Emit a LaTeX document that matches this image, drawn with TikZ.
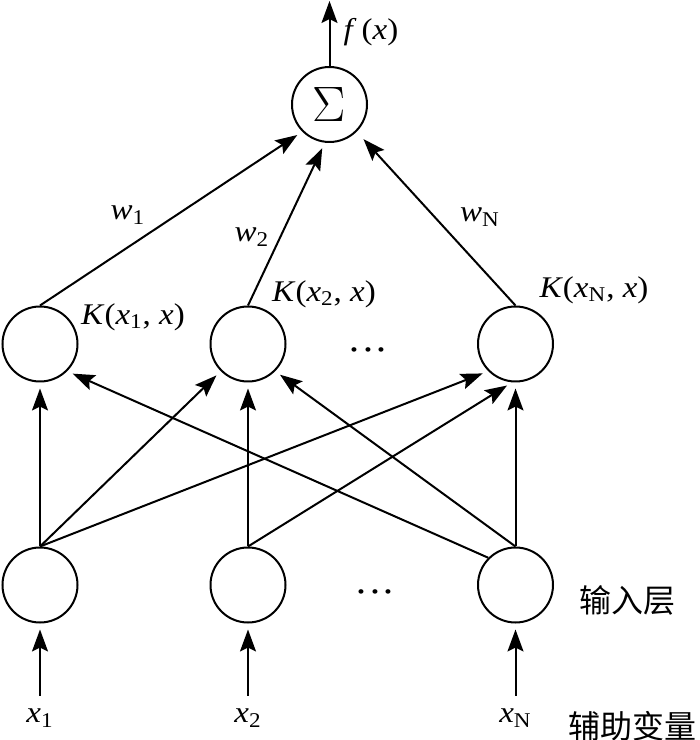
\documentclass[tikz,border=0pt]{standalone}
\usepackage{fontspec}
\setmainfont{Liberation Serif}[FakeStretch=1.1]
\newfontfamily\cjk{Noto Sans CJK SC}
\usetikzlibrary{arrows.meta}
\newcommand{\vx}{\textit{x}}

\begin{document}
\begin{tikzpicture}[x=.5pt, y=.5pt, line width=1pt,
  neuron/.style={circle, draw, minimum size=37.5pt, inner sep=0pt},
  conn/.style={-{Stealth[length=11pt, width=8pt, inset=2pt]}, shorten >=3pt},
  lbl/.style={font=\fontsize{15}{17}\selectfont, inner sep=1pt},
  inlbl/.style={lbl, inner xsep=1pt, inner ysep=6pt},
  dotlbl/.style={font=\fontsize{19}{19}\selectfont, inner sep=0pt},
  cjklbl/.style={font=\fontsize{16}{18}\selectfont\cjk, inner sep=0pt}]
  \useasboundingbox (0,0) rectangle (700,740);
  % nodes
  \node [neuron] (sig) at (329.5,635.5) {\fontsize{27}{27}\selectfont$\Sigma$};
  \node [neuron] (h1) at (40,396) {};
  \node [neuron] (h2) at (248,396) {};
  \node [neuron] (hN) at (515.5,396) {};
  \node [neuron] (i1) at (40,155) {};
  \node [neuron] (i2) at (248,155) {};
  \node [neuron] (iN) at (515.5,155) {};
  \node [inlbl] (x1) at (40,22) {\vx\textsubscript{1}};
  \node [inlbl] (x2) at (248,22) {\vx\textsubscript{2}};
  \node [inlbl] (xN) at (515.5,22) {\vx\textsubscript{N}};
  \coordinate (out) at (329.5,739);
  % labels
  \node [lbl] (fx) at (371,708) {\textit{f\/}\,(\vx)};
  \node [lbl] (w1) at (128,525) {\textit{w}\textsubscript{1}};
  \node [lbl] (w2) at (252,503) {\textit{w}\textsubscript{2}};
  \node [lbl] (wN) at (480,523) {\textit{w}\textsubscript{N}};
  \node [lbl] (K1) at (133,423) {\textit{K}(\vx\textsubscript{1}, \vx)};
  \node [lbl] (K2) at (324,446) {\textit{K}(\vx\textsubscript{2}, \vx)};
  \node [lbl] (KN) at (594,450) {\textit{K}(\vx\textsubscript{N}, \vx)};
  \node [dotlbl] (hdots) at (368,385) {···};
  \node [dotlbl] (idots) at (375,143) {···};
  \node [cjklbl] (inlayer) at (627,140) {输入层};
  \node [cjklbl] (auxvar) at (632,14) {辅助变量};
  % output
  \draw [conn, shorten >=0pt] (sig.north) -- (out);
  % hidden -> sum
  \draw [conn] (h1.north) -- (sig.south west);
  \draw [conn] (h2.north) -- (sig.263);
  \draw [conn, shorten >=5pt] (hN.north) -- (sig.south east);
  % input -> hidden
  \draw [conn] (i1.north) -- (h1.south);
  \draw [conn] (i1.north) -- (h2.south west);
  \draw [conn] (i1.north) -- (hN.south west);
  \draw [conn] (i2.north) -- (h2.south);
  \draw [conn] (i2.north) -- (hN.265);
  \draw [conn] (iN.north west) -- (h1.south east);
  \draw [conn] (iN.north) -- (h2.south east);
  \draw [conn] (iN.north) -- (hN.south);
  % variables -> input
  \draw [conn] (x1) -- (i1);
  \draw [conn] (x2) -- (i2);
  \draw [conn] (xN) -- (iN);
\end{tikzpicture}
\end{document}
